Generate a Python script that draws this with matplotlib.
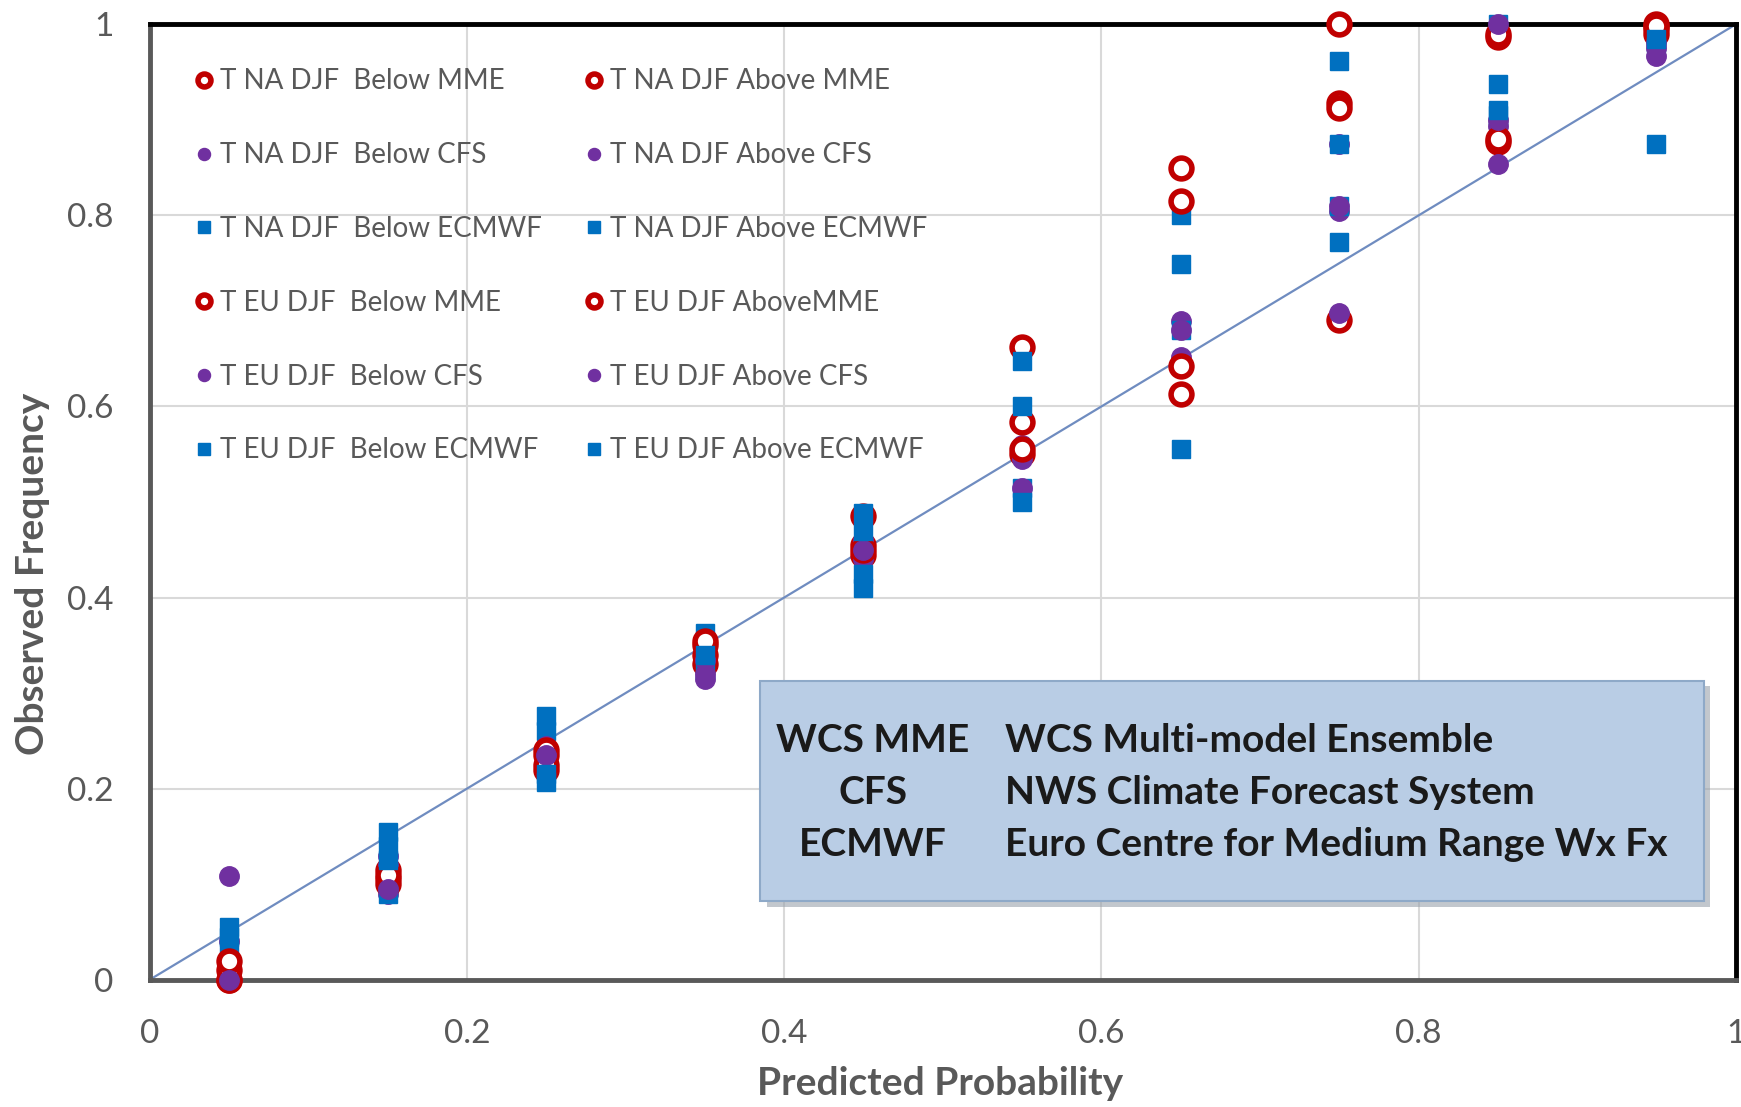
import numpy as np
import matplotlib
matplotlib.use("Agg")
import matplotlib.pyplot as plt
from matplotlib.patches import Rectangle

plt.rcParams['font.family'] = ['Lato', 'DejaVu Sans']

# predicted probability bins
x_bins = [0.05, 0.15, 0.25, 0.35, 0.45, 0.55, 0.65, 0.75, 0.85, 0.95]

# observed frequency, one list per series
na_below_mme = [0.00, 0.105, 0.235, 0.34, 0.485, 0.662, 0.85, 1.00, 0.987, 1.00]
na_above_mme = [0.01, 0.115, 0.225, 0.35, 0.455, 0.584, 0.815, 0.918, 0.877, 0.995]
eu_below_mme = [0.00, 0.10, 0.22, 0.33, 0.445, 0.55, 0.613, 0.691, 0.99, 0.99]
eu_above_mme = [0.02, 0.11, 0.24, 0.355, 0.45, 0.555, 0.642, 0.912, 0.88, 0.998]

na_below_cfs = [0.04, 0.09, 0.23, 0.315, 0.445, 0.56, 0.69, 0.805, 0.894, 0.967]
na_above_cfs = [0.109, 0.12, 0.245, 0.335, 0.46, 0.55, 0.652, 0.698, 0.854, 1.00]
eu_below_cfs = [0.02, 0.13, 0.22, 0.345, 0.44, 0.545, 0.642, 0.875, 1.00, 0.98]
eu_above_cfs = [0.00, 0.095, 0.235, 0.32, 0.45, 0.515, 0.68, 0.81, 0.90, 0.975]

na_below_ec = [0.055, 0.155, 0.276, 0.363, 0.489, 0.648, 0.80, 0.962, 1.00, 0.99]
na_above_ec = [0.03, 0.14, 0.207, 0.355, 0.41, 0.60, 0.749, 0.875, 0.938, 0.875]
eu_below_ec = [0.01, 0.09, 0.26, 0.325, 0.425, 0.515, 0.68, 0.81, 0.905, 0.98]
eu_above_ec = [0.045, 0.125, 0.215, 0.34, 0.47, 0.50, 0.556, 0.772, 0.91, 0.985]

labels_below = ["T NA DJF  Below MME", "T NA DJF  Below CFS", "T NA DJF  Below ECMWF",
                "T EU DJF  Below MME", "T EU DJF  Below CFS", "T EU DJF  Below ECMWF"]
labels_above = ["T NA DJF Above MME", "T NA DJF Above CFS", "T NA DJF Above ECMWF",
                "T EU DJF AboveMME", "T EU DJF Above CFS", "T EU DJF Above ECMWF"]

box_keys = ["WCS MME", "CFS", "ECMWF"]
box_desc = ["WCS Multi-model Ensemble", "NWS Climate Forecast System",
            "Euro Centre for Medium Range Wx Fx"]

red = "#C00000"
purple = "#7030A0"
blue = "#0070C0"
gray = "#595959"

styles = {
    "mme": dict(marker="o", ms=15, mfc="white", mec=red, mew=4, ls="none"),
    "cfs": dict(marker="o", ms=14, mfc=purple, mec=purple, ls="none"),
    "ec": dict(marker="s", ms=13.5, mfc=blue, mec=blue, ls="none"),
}

series_below = [(na_below_mme, "mme"), (na_below_cfs, "cfs"), (na_below_ec, "ec"),
                (eu_below_mme, "mme"), (eu_below_cfs, "cfs"), (eu_below_ec, "ec")]
series_above = [(na_above_mme, "mme"), (na_above_cfs, "cfs"), (na_above_ec, "ec"),
                (eu_above_mme, "mme"), (eu_above_cfs, "cfs"), (eu_above_ec, "ec")]

fig = plt.figure(figsize=(17.41, 11.07), dpi=100)
ax = fig.add_axes([0.086, 0.115, 0.911, 0.863])

ax.plot([0, 1], [0, 1], color="#6F8CC0", lw=1.6, zorder=2)

handles = []
labels = []
for (vals, kind), lab in zip(series_below, labels_below):
    h, = ax.plot(x_bins, vals, clip_on=False, zorder=4, **styles[kind])
    handles.append(h)
    labels.append(lab)
for (vals, kind), lab in zip(series_above, labels_above):
    h, = ax.plot(x_bins, vals, clip_on=False, zorder=4, **styles[kind])
    handles.append(h)
    labels.append(lab)

leg = ax.legend(handles, labels, ncol=2, loc="upper left", frameon=False,
                fontsize=20, markerscale=0.62, handlelength=0.6, handletextpad=0.3,
                columnspacing=1.55, labelspacing=1.72,
                bbox_to_anchor=(0.013, 0.98))
for t in leg.get_texts():
    t.set_color(gray)

ax.set_xlim(0, 1)
ax.set_ylim(0, 1)
ticks = [0, 0.2, 0.4, 0.6, 0.8, 1]
ticklabels = ["0", "0.2", "0.4", "0.6", "0.8", "1"]
ax.set_xticks(ticks)
ax.set_xticklabels(ticklabels)
ax.set_yticks(ticks)
ax.set_yticklabels(ticklabels)
ax.tick_params(length=0, labelsize=24, colors=gray)
ax.tick_params(axis="x", pad=28)
ax.tick_params(axis="y", pad=26)
ax.grid(True, color="#D9D9D9", lw=1.5)
ax.set_axisbelow(True)

for side in ["left", "bottom"]:
    ax.spines[side].set_color(gray)
    ax.spines[side].set_linewidth(3.5)
for side in ["top", "right"]:
    ax.spines[side].set_color("black")
    ax.spines[side].set_linewidth(3.5)

ax.set_xlabel("Predicted Probability", fontsize=28, color=gray, fontweight="bold")
ax.set_ylabel("Observed Frequency", fontsize=28, color=gray, fontweight="bold")
ax.xaxis.set_label_coords(0.498, -0.09)
ax.yaxis.set_label_coords(-0.063, 0.425)

# info box with shadow
shadow = Rectangle((0.389, 0.076), 0.595, 0.231, facecolor="#9AA3AD", edgecolor="none",
                   alpha=0.6, zorder=5)
ax.add_patch(shadow)
box = Rectangle((0.385, 0.082), 0.595, 0.231, facecolor="#B9CDE5", edgecolor="#8EA9C8",
                lw=1.5, zorder=6)
ax.add_patch(box)
rows_y = [0.250, 0.196, 0.142]
for k, d, yy in zip(box_keys, box_desc, rows_y):
    ax.text(0.456, yy, k, ha="center", va="center", fontsize=28, fontweight="bold",
            color="#1A1A1A", zorder=7)
    ax.text(0.539, yy, d, ha="left", va="center", fontsize=28, fontweight="bold",
            color="#1A1A1A", zorder=7)

fig.savefig("out.png", dpi=100)
